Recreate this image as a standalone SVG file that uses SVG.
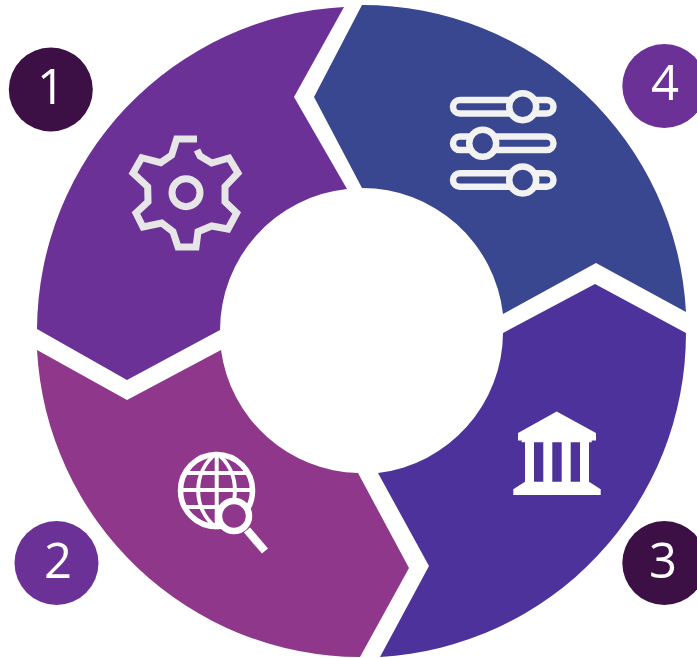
<svg xmlns="http://www.w3.org/2000/svg" width="697" height="658" viewBox="0 0 697 658">
<style>
.n{font-family:"Open Sans","Noto Sans",sans-serif;font-size:49px;fill:#fff;text-anchor:middle}
</style>
<rect width="697" height="658" fill="#fff"/>
<g id="segment-1">
<path d="M37 329A324.500 324.500 0 0 1 344 7L294 97L347 189A142 142 0 0 0 220 330L127 380Z" fill="#6B3196"/>
<path fill="none" stroke="#E6E6E6" stroke-width="7" d="M197 139H176.700L171.700 155L160.700 162.700L141.700 157.700L133 173L147.700 186.700L148 201.700L136 213L143 227L161.700 223L173 231.700L178 247H196L198 231.700L211.700 226L228 229L236.700 213L225 201.700V186.700L238 173L229 158L211.700 163L200 156L197 150"/>
<circle cx="186" cy="192.700" r="14" fill="none" stroke="#E6E6E6" stroke-width="7"/>
</g>
<g id="segment-2">
<path d="M37 350A324.500 324.500 0 0 0 360 657L409 568L358 473A142 142 0 0 1 221 350L127 400Z" fill="#8E378B"/>
<g fill="none" stroke="#fff">
<circle cx="216.500" cy="490.500" r="36" stroke-width="5.500"/>
<path stroke-width="4" d="M216.700 453V528M183 473H250M181 490H252M183 507H250M216.700 453C192 472 192 509 216.700 528M216.700 453C241 472 241 509 216.700 528"/>
<circle cx="234" cy="516" r="15" fill="#8E378B" stroke-width="6.500"/>
<path stroke-width="8" d="M247 530L265 551"/>
</g>
</g>
<g id="segment-3">
<path d="M686 333A324.500 324.500 0 0 1 380 657L429 566L378 473A142 142 0 0 0 503 333L595 284Z" fill="#4C329A"/>
<path fill="#fff" fill-rule="evenodd" d="M556.700 411.500L596 433V440.500H591.700V442.300H589V481.700L600.700 489.300V495H513.300V489.300L525 481.700V442.300H521.700V440.500H518V433ZM534 442.300V481.700H543.300V442.300ZM552.300 442.300V481.700H561.700V442.300ZM570.700 442.300V481.700H580V442.300Z"/>
</g>
<g id="segment-4">
<path d="M362 5A324.500 324.500 0 0 1 686 312L596 263L503 314A142 142 0 0 0 362 188L314 97Z" fill="#38478F"/>
<g fill="none" stroke="#F2F2F2" stroke-width="6.500">
<rect x="453" y="100" width="100.500" height="13.500" rx="6.750"/>
<rect x="453" y="136.600" width="100.500" height="13.500" rx="6.750"/>
<rect x="453" y="173.300" width="100.500" height="13.500" rx="6.750"/>
<circle cx="522.700" cy="106.700" r="13.500" fill="#38478F"/>
<circle cx="482.700" cy="143.300" r="13.500" fill="#38478F"/>
<circle cx="522.700" cy="180" r="13.500" fill="#38478F"/>
</g>
</g>
<g id="badge-1"><circle cx="50.800" cy="89.500" r="42" fill="#3C0F45"/><text class="n" x="51" y="104.300">1</text></g>
<g id="badge-2"><circle cx="56.500" cy="563" r="42" fill="#6B3196"/><text class="n" x="58" y="578.300">2</text></g>
<g id="badge-3"><circle cx="664.300" cy="563" r="42" fill="#3C0F45"/><text class="n" x="663" y="578.300">3</text></g>
<g id="badge-4"><circle cx="664.300" cy="86" r="42" fill="#6B3196"/><text class="n" x="665" y="100.300">4</text></g>
<g id="connectors"/>
</svg>
